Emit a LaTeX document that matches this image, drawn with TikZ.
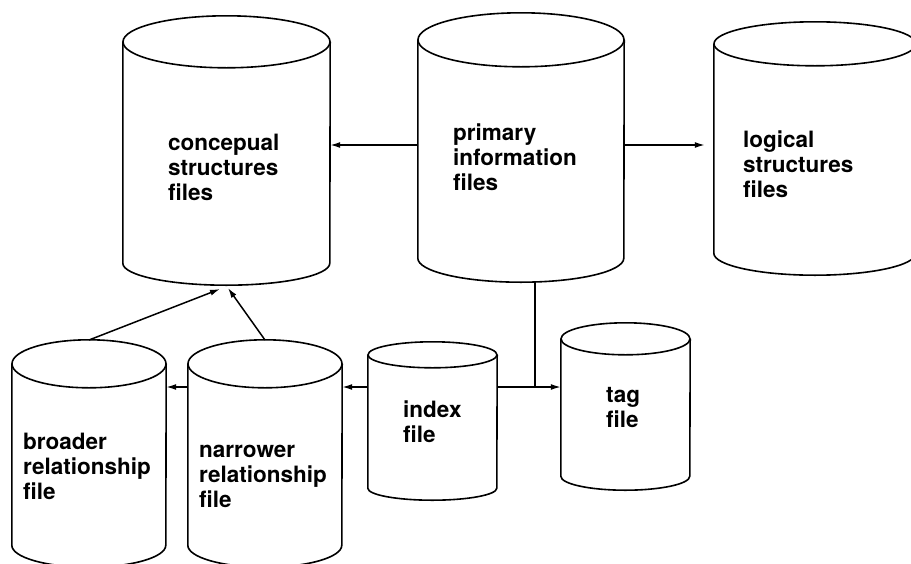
\documentclass[tikz,border=0pt]{standalone}
\usepackage{fontspec}
\setsansfont{TeX Gyre Heros}
\usetikzlibrary{arrows.meta,fit}
\newcommand\mklines[1]{\vtop{\halign{##\hfil\cr#1\crcr}}}
\newcommand\dbcyl[7]{%
  \node[fit={(#2,#4) (#3,#5)}, inner sep=0pt] (#1) {};
  \pgfmathsetmacro\halfw{(#3-#2)/2}
  \draw[cyl] (#1.north) ellipse[x radius=\halfw pt, y radius=#6pt];
  \draw[cyl] (#1.north west) -- (#1.south west) arc[start angle=180,end angle=360,x radius=\halfw pt,y radius=#7pt] -- (#1.north east);
}
\tikzset{
  cyl/.style={line width=1.6pt},
  conn/.style={line width=1.5pt},
  arr/.style={conn,-{Latex[length=10pt,width=6pt]}},
  lbl/.style={font=\sffamily\bfseries\fontsize{22.5}{25}\selectfont, inner sep=0pt, anchor=base west},
}
\begin{document}
\begin{tikzpicture}[x=1pt,y=-1pt]
\useasboundingbox[fill=white] (0,0) rectangle (911,563);
% cylinders
\dbcyl{conc}{123}{330}{42}{263}{26}{22}
\dbcyl{prim}{418}{624}{40}{258}{27}{24}
\dbcyl{logi}{714}{916}{44}{253}{22}{22}
\dbcyl{bro}{12}{166}{364}{545}{24}{22}
\dbcyl{nar}{188}{342}{364}{545}{24}{22}
\dbcyl{idx}{368}{497}{355}{488}{13}{12}
\dbcyl{tag}{561}{690}{339}{476}{16}{14}
% labels
\node[lbl] (tconc) at (168,150) {\mklines{concepual\cr structures\cr files}};
\node[lbl] (tprim) at (453,140) {\mklines{primary\cr information\cr files}};
\node[lbl] (tlogi) at (743,147) {\mklines{logical\cr structures\cr files}};
\node[lbl] (tbro) at (23,449) {\mklines{broader\cr relationship\cr file}};
\node[lbl] (tnar) at (199,457) {\mklines{narrower\cr relationship\cr file}};
\node[lbl] (tidx) at (403,417) {\mklines{index\cr file}};
\node[lbl] (ttag) at (606,402) {\mklines{tag\cr file}};
% connection points
\coordinate (j) at (535,387);
\coordinate (pb) at (535,282);
\coordinate (cb1) at (220,289);
\coordinate (cb2) at (228,288);
\coordinate (brotop) at (89,340);
\coordinate (nartop) at (265,340);
% connectors
\draw[arr] (prim.west |- 0,145) -- (conc.east |- 0,145);
\draw[arr,shorten >=9pt] (prim.east |- 0,145) -- (logi.west |- 0,145);
\draw[conn] (pb) -- (j);
\draw[arr] (idx.east |- j) -- (tag.west |- j);
\draw[arr] (idx.west |- j) -- (nar.east |- j);
\draw[arr] (nar.west |- j) -- (bro.east |- j);
\draw[arr] (brotop) -- (cb1);
\draw[arr] (nartop) -- (cb2);
\end{tikzpicture}
\end{document}
